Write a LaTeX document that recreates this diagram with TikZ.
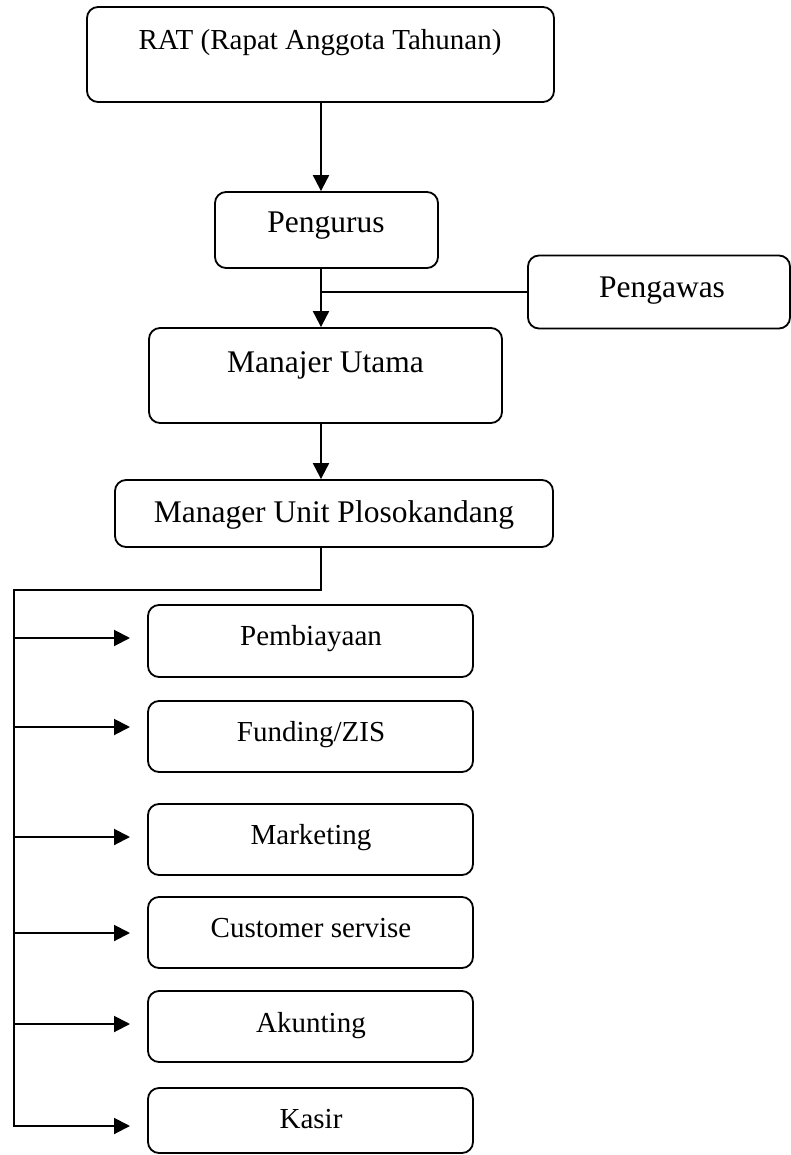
\documentclass[tikz,border=0pt]{standalone}
\usepackage{fontspec}
\setmainfont{Liberation Serif}
\usetikzlibrary{arrows.meta}
\begin{document}
\begin{tikzpicture}[x=1pt,y=-1pt,
  box/.style={draw, line width=1.8pt, rounded corners=11pt, inner sep=0pt},
  bigtxt/.style={anchor=base, inner sep=0pt, font=\fontsize{31.5}{36}\selectfont},
  smalltxt/.style={anchor=base, inner sep=0pt, font=\fontsize{29}{34}\selectfont},
  conn/.style={line width=2pt},
  arr/.style={line width=2pt, -{Triangle[length=16pt,width=16pt]}}]
\useasboundingbox (0,0) rectangle (791,1155);
% boxes
\node[box, minimum width=467pt, minimum height=95pt] (rat) at (320.5,54.5) {};
\node[box, minimum width=223pt, minimum height=76pt] (pengurus) at (326.5,230) {};
\node[box, minimum width=262pt, minimum height=73pt] (pengawas) at (659,292) {};
\node[box, minimum width=353pt, minimum height=95pt] (manajer) at (325.5,375.5) {};
\node[box, minimum width=438pt, minimum height=67pt] (unit) at (334,513.5) {};
\node[box, minimum width=325pt, minimum height=72pt] (b1) at (310.5,641) {};
\node[box, minimum width=325pt, minimum height=71pt] (b2) at (310.5,736.5) {};
\node[box, minimum width=325pt, minimum height=71pt] (b3) at (310.5,839.5) {};
\node[box, minimum width=325pt, minimum height=71pt] (b4) at (310.5,932.5) {};
\node[box, minimum width=325pt, minimum height=71pt] (b5) at (310.5,1026.5) {};
\node[box, minimum width=325pt, minimum height=65pt] (b6) at (310.5,1120.5) {};
% texts
\node[smalltxt] (t-rat) at (320,50) {RAT (Rapat Anggota Tahunan)};
\node[bigtxt] (t-pengurus) at (326,233) {Pengurus};
\node[bigtxt] (t-pengawas) at (662,298) {Pengawas};
\node[bigtxt] (t-manajer) at (325.5,372) {Manajer Utama};
\node[bigtxt] (t-unit) at (334,522) {Manager Unit Plosokandang};
\node[smalltxt] (t-b1) at (311,645) {Pembiayaan};
\node[smalltxt] (t-b2) at (311,741) {Funding/ZIS};
\node[smalltxt] (t-b3) at (311,844) {Marketing};
\node[smalltxt] (t-b4) at (311,937) {Customer servise};
\node[smalltxt] (t-b5) at (311,1032) {Akunting};
\node[smalltxt] (t-b6) at (311,1128) {Kasir};
% coordinates
\coordinate (spine) at (321,0);
\coordinate (bend) at (321,590);
\coordinate (lefttop) at (14,590);
\coordinate (leftbot) at (14,1127);
\coordinate (a1) at (130,638);
\coordinate (a2) at (130,727);
\coordinate (a3) at (130,837);
\coordinate (a4) at (130,933);
\coordinate (a5) at (130,1024);
\coordinate (a6) at (130,1126);
% connectors
\draw[arr] (rat.south -| spine) -- (pengurus.north -| spine);
\draw[arr] (pengurus.south -| spine) -- (manajer.north -| spine);
\draw[conn] (pengawas.west) -- (pengawas.west -| spine);
\draw[arr] (manajer.south -| spine) -- (unit.north -| spine);
\draw[conn] (unit.south -| spine) -- (bend) -- (lefttop) -- (leftbot);
\draw[arr] (lefttop |- a1) -- (a1);
\draw[arr] (lefttop |- a2) -- (a2);
\draw[arr] (lefttop |- a3) -- (a3);
\draw[arr] (lefttop |- a4) -- (a4);
\draw[arr] (lefttop |- a5) -- (a5);
\draw[arr] (lefttop |- a6) -- (a6);
\end{tikzpicture}
\end{document}
